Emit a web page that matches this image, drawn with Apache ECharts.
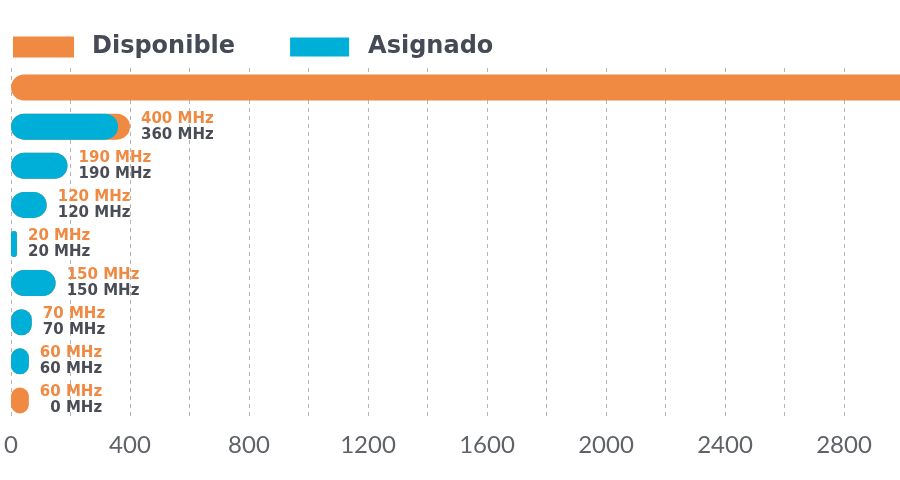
<!DOCTYPE html>
<html>
<head>
<meta charset="utf-8">
<script src="https://cdn.jsdelivr.net/npm/echarts@6/dist/echarts.min.js"></script>
<style>
    html, body { margin: 0; padding: 0; background: #fff; }
    #chart { width: 900px; height: 480px; }
</style>
</head>
<body>
<div id="chart"></div>
<script>
// bandas (nombres no visibles en la imagen)
var bandas = ['B1', 'B2', 'B3', 'B4', 'B5', 'B6', 'B7', 'B8', 'B9'];
// MHz disponibles / asignados por banda
var disponible = [3300, 400, 190, 120, 20, 150, 70, 60, 60];
var asignado = [0, 360, 190, 120, 20, 150, 70, 60, 0];
var ticksX = [0, 400, 800, 1200, 1600, 2000, 2400, 2800];

var NARANJA = '#f08a42';
var AZUL = '#00afd7';
var GRIS = '#4a4d55';

var chart = echarts.init(document.getElementById('chart'));
chart.setOption({
    animation: false,
    legend: {
        left: 13,
        top: 35,
        padding: 0,
        icon: 'rect',
        itemWidth: 59,
        itemHeight: 19,
        itemGap: 55,
        textStyle: {
            fontFamily: 'DejaVu Sans',
            fontWeight: 'bold',
            fontSize: 24,
            color: '#454a55',
            padding: [0, 0, 0, 14]
        },
        data: ['Disponible', 'Asignado']
    },
    // el eje sigue más allá del borde derecho (recortado)
    grid: {
        left: 11,
        right: -63,
        top: 68,
        bottom: 60,
        outerBoundsMode: 'none'
    },
    xAxis: {
        type: 'value',
        min: 0,
        max: 3200,
        interval: 200,
        axisLine: { show: false },
        axisTick: { show: false },
        axisLabel: {
            margin: 13,
            fontFamily: 'Lato',
            fontSize: 24,
            color: '#5f6268',
            formatter: function (v) {
                return ticksX.indexOf(v) >= 0 ? String(v) : '';
            }
        },
        splitLine: {
            lineStyle: { color: '#b5b5b5', type: [4, 4], width: 1 }
        }
    },
    yAxis: {
        type: 'category',
        inverse: true,
        data: bandas,
        axisLine: { show: false },
        axisTick: { show: false },
        axisLabel: { show: false }
    },
    series: [
        {
            name: 'Disponible',
            type: 'bar',
            data: disponible,
            barWidth: 26,
            barGap: '-100%',
            itemStyle: {
                color: NARANJA,
                borderColor: NARANJA,
                borderWidth: 2,
                borderRadius: 14
            },
            label: {
                show: true,
                position: 'right',
                distance: 11,
                formatter: function (p) {
                    if (p.dataIndex === 0) return '';
                    return '{a|' + disponible[p.dataIndex] + ' MHz}\n{b|' + asignado[p.dataIndex] + ' MHz}';
                },
                rich: {
                    a: {
                        fontFamily: 'DejaVu Sans', fontWeight: 'bold', fontSize: 15,
                        color: NARANJA, lineHeight: 16, align: 'right'
                    },
                    b: {
                        fontFamily: 'DejaVu Sans', fontWeight: 'bold', fontSize: 15,
                        color: GRIS, lineHeight: 16, align: 'right'
                    }
                }
            }
        },
        {
            name: 'Asignado',
            type: 'bar',
            data: asignado,
            barWidth: 26,
            itemStyle: {
                color: AZUL,
                borderRadius: 13
            }
        }
    ]
});
</script>
</body>
</html>
